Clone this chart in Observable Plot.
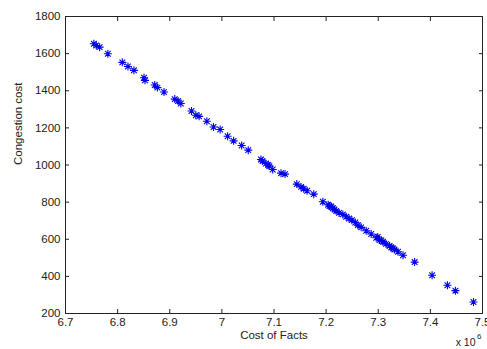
<!DOCTYPE html>
<html><head><meta charset="utf-8">
<script src="https://cdn.jsdelivr.net/npm/d3@7"></script>
<script src="https://cdn.jsdelivr.net/npm/@observablehq/plot@0.6"></script>
<style>body{margin:0;background:#fff}</style>
</head><body><div id="chart"></div>
<script>
// Cost of Facts (x 10^6)
const costFacts = [6.7544,6.759,6.7654,6.7813,6.809,6.8198,6.8313,6.8506,6.8525,6.8712,6.8763,6.889,6.9096,6.916,6.9212,6.9417,6.95,6.9563,6.9712,6.984,6.9967,7.011,7.0225,7.0379,7.0506,7.075,7.0846,7.091,7.0975,7.1135,7.1212,7.1437,7.1519,7.1635,7.1763,7.1937,7.2063,7.2129,7.2192,7.2321,7.2385,7.2494,7.261,7.2673,7.2769,7.2865,7.2962,7.3025,7.309,7.3217,7.3283,7.3379,7.3475,7.3698,7.4033,7.4327,7.448,7.4827,
  7.2040,7.2095,7.2160,7.2250,7.2440,7.2560,7.2990,7.3060,7.3150,7.3250,7.3310,7.0780,7.0890,7.1570];
const congestion = [1653,1644,1635,1599,1553,1531,1510,1470,1456,1431,1417,1393,1355,1345,1331,1291,1268,1262,1236,1205,1191,1155,1130,1105,1080,1030,1008,994,976,956,951,897,882,861,843,802,779,767,753,734,721,703,676,664,646,628,608,596,587,564,551,533,514,477,406,352,323,262,
  786,776,760,742,712,690,612,593,575,556,545,1022,1000,872];
const xTicks = [6.7,6.8,6.9,7.0,7.1,7.2,7.3,7.4,7.5];
const yTicks = [200,400,600,800,1000,1200,1400,1600,1800];
const xLabel = "Cost of Facts";
const yLabel = "Congestion cost";

const data = costFacts.map((x,i)=>({x, y: congestion[i]}));
const fmt = d => String(+d.toFixed(1));

const star = {
  draw(ctx, size) {
    const r = Math.sqrt(size / Math.PI);
    const s = r * Math.SQRT1_2;
    ctx.moveTo(-r,0); ctx.lineTo(r,0);
    ctx.moveTo(0,-r); ctx.lineTo(0,r);
    ctx.moveTo(-s,-s); ctx.lineTo(s,s);
    ctx.moveTo(-s,s); ctx.lineTo(s,-s);
  }
};

const font = "'Liberation Sans', Arial, Helvetica, sans-serif";
const chart = Plot.plot({
  width: 487, height: 349,
  marginLeft: 65, marginRight: 5, marginTop: 16, marginBottom: 36,
  x: {domain: [6.7, 7.5]},
  y: {domain: [200, 1800]},
  style: {fontFamily: font, fontSize: "11.5px", color: "#222", background: "#fff"},
  marks: [
    Plot.frame({stroke: "#222", strokeWidth: 1}),
    Plot.axisX({anchor: "bottom", ticks: xTicks, tickSize: 0, tickPadding: 4, tickFormat: fmt, label: null}),
    Plot.axisY({anchor: "left", ticks: yTicks, tickSize: 0, tickPadding: 5, tickFormat: d => String(d), label: null}),
    Plot.axisX({anchor: "bottom", ticks: xTicks, tickSize: -4, tickFormat: () => "", label: null}),
    Plot.axisX({anchor: "top", ticks: xTicks, tickSize: -4, tickFormat: () => "", label: null}),
    Plot.axisY({anchor: "left", ticks: yTicks, tickSize: -4, tickFormat: () => "", label: null}),
    Plot.axisY({anchor: "right", ticks: yTicks, tickSize: -4, tickFormat: () => "", label: null}),
    Plot.dot(data, {x: "x", y: "y", symbol: star, r: 4, stroke: "#0000ee", strokeWidth: 1.1, fill: "none"}),
    Plot.text([xLabel], {frameAnchor: "bottom", text: d => d, dy: 25, fill: "#222"}),
    Plot.text([yLabel], {frameAnchor: "left", text: d => d, rotate: -90, dx: -47, fill: "#222"}),
    Plot.text(["x 10"], {frameAnchor: "bottom-right", text: d => d, textAnchor: "end", dx: -7, dy: 32, fill: "#222", fontSize: 10.5}),
    Plot.text(["6"], {frameAnchor: "bottom-right", text: d => d, textAnchor: "end", dx: -1, dy: 25, fill: "#222", fontSize: 8})
  ]
});
document.getElementById("chart").appendChild(chart);
</script>
</body></html>
